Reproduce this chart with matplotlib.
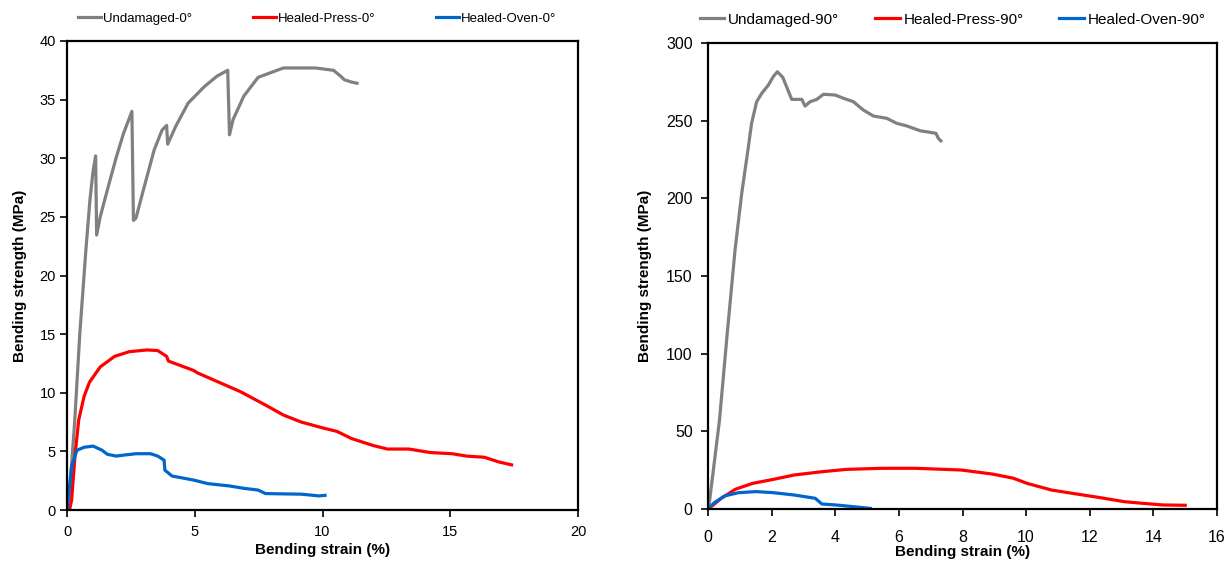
import matplotlib
matplotlib.use("Agg")
import matplotlib.pyplot as plt

plt.rcParams['font.family'] = ['Liberation Sans', 'DejaVu Sans']

# ---- Left panel (0°) ----
und0_x = [0, 0.1, 0.3, 0.5, 0.74, 0.9, 1.02, 1.12, 1.16, 1.3, 1.58, 1.93, 2.21, 2.54, 2.6, 2.7, 2.99, 3.41,
          3.72, 3.9, 3.94, 4.25, 4.74, 5.37, 5.87, 6.29, 6.36, 6.5, 6.92, 7.48, 8.47, 9.73, 10.43, 10.71,
          10.85, 11.13, 11.35]
und0_y = [0, 1.5, 7.5, 15, 22.2, 26.5, 28.9, 30.2, 23.45, 25.0, 27.3, 30.1, 32.1, 34.0, 24.7, 24.9, 27.3, 30.7,
          32.4, 32.8, 31.2, 32.7, 34.7, 36.1, 37.0, 37.5, 32.0, 33.3, 35.3, 36.9, 37.7, 37.7, 37.5, 37.0,
          36.7, 36.5, 36.4]

press0_x = [0.1, 0.18, 0.32, 0.46, 0.67, 0.88, 1.3, 1.86, 2.43, 3.13, 3.55, 3.9, 3.97, 4.96, 5.1, 5.94, 6.78,
            7.77, 8.47, 9.17, 10.01, 10.57, 11.13, 11.98, 12.54, 13.38, 14.22, 15.07, 15.63, 16.33, 16.9, 17.4]
press0_y = [0, 0.85, 4.8, 7.7, 9.7, 10.9, 12.2, 13.1, 13.5, 13.65, 13.6, 13.1, 12.7, 11.9, 11.7, 10.9, 10.1,
            8.95, 8.1, 7.5, 7.0, 6.7, 6.1, 5.5, 5.2, 5.2, 4.9, 4.8, 4.6, 4.5, 4.1, 3.85]

oven0_x = [0, 0.18, 0.39, 0.67, 1.02, 1.37, 1.58, 1.93, 2.29, 2.7, 3.27, 3.55, 3.8, 3.83, 4.11, 4.96, 5.51,
           6.36, 6.92, 7.48, 7.77, 9.17, 9.87, 10.1]
oven0_y = [0, 3.7, 5.1, 5.35, 5.45, 5.1, 4.75, 4.6, 4.7, 4.8, 4.8, 4.6, 4.25, 3.4, 2.9, 2.55, 2.25,
           2.05, 1.85, 1.7, 1.4, 1.35, 1.2, 1.25]

# ---- Right panel (90°) ----
und90_x = [0, 0.03, 0.36, 0.6, 0.85, 1.06, 1.27, 1.37, 1.53, 1.69, 1.9, 2.05, 2.18, 2.35, 2.47, 2.63, 2.95,
           3.05, 3.21, 3.42, 3.63, 4.0, 4.26, 4.57, 4.88, 5.2, 5.62, 5.93, 6.25, 6.67, 6.98, 7.17, 7.24, 7.32]
und90_y = [0, 2, 57, 112, 166.7, 203.2, 233.3, 248.3, 262.2, 267.6, 273, 278.3, 281.5, 277.9, 271.9, 263.7,
           263.7, 259.4, 262.2, 263.7, 267, 266.5, 264.4, 262.2, 256.9, 253, 251.5, 248.3, 246.6, 243.5,
           242.5, 241.8, 238.6, 237]

press90_x = [0.03, 0.42, 0.86, 1.4, 2.06, 2.71, 3.58, 4.35, 5.44, 6.53, 7.96, 8.94, 9.6, 10.03, 10.8, 11.45,
             12.33, 13.09, 13.64, 14.29, 15.0]
press90_y = [0.4, 6.9, 12.7, 16.5, 19.1, 21.9, 24.0, 25.5, 26.2, 26.2, 25.1, 22.5, 19.8, 16.5, 12.2, 10.1,
             7.3, 4.7, 3.7, 2.6, 2.4]

oven90_x = [0, 0.2, 0.52, 0.96, 1.51, 2.06, 2.71, 3.37, 3.58, 4.02, 4.57, 5.1]
oven90_y = [0, 4.1, 8.4, 10.5, 11.2, 10.5, 9.0, 6.9, 3.2, 2.6, 1.5, 0.4]

labels0 = ['Undamaged-0°', 'Healed-Press-0°', 'Healed-Oven-0°']
labels90 = ['Undamaged-90°', 'Healed-Press-90°', 'Healed-Oven-90°']
colors = ['#808080', '#FF0000', '#0066CC']

fig = plt.figure(figsize=(12.32, 5.63), dpi=100)
ax1 = fig.add_axes([67/1232, 53/563, 511/1232, 469/563])
ax2 = fig.add_axes([708/1232, 54/563, 509/1232, 466/563])

lw = 2.3
for x, y, c, l in zip([und0_x, press0_x, oven0_x], [und0_y, press0_y, oven0_y], colors, labels0):
    ax1.plot(x, y, color=c, lw=lw, label=l, solid_joinstyle='round')
for x, y, c, l in zip([und90_x, press90_x, oven90_x], [und90_y, press90_y, oven90_y], colors, labels90):
    ax2.plot(x, y, color=c, lw=lw, label=l, solid_joinstyle='round')

ax1.set_xlim(0, 20)
ax1.set_ylim(0, 40)
ax1.set_xticks([0, 5, 10, 15, 20])
ax1.set_yticks(range(0, 41, 5))
ax2.set_xlim(0, 16)
ax2.set_ylim(0, 300)
ax2.set_xticks(range(0, 17, 2))
ax2.set_yticks(range(0, 301, 50))

for ax in (ax1, ax2):
    for s in ax.spines.values():
        s.set_linewidth(1.6)
    ax.tick_params(direction='out', length=5, width=1.2, labelsize=10.5, pad=3)

ax1.tick_params(axis='x', pad=6)
ax2.tick_params(axis='x', pad=10, labelsize=11.5)
ax2.tick_params(axis='y', labelsize=11.5, pad=6)
ax1.set_xlabel('Bending strain (%)', fontsize=11, fontweight='bold', labelpad=3)
ax2.set_xlabel('Bending strain (%)', fontsize=11, fontweight='bold', labelpad=0)
ax1.set_ylabel('Bending strength (MPa)', fontsize=11, fontweight='bold', labelpad=9)
ax2.set_ylabel('Bending strength (MPa)', fontsize=11, fontweight='bold', labelpad=10)

ax1.legend(loc='lower left', bbox_to_anchor=(0.022, 1.035), ncol=3, frameon=False,
           fontsize=9.5, handlelength=1.75, handletextpad=0.15, columnspacing=4.6,
           borderaxespad=0, borderpad=0)
ax2.legend(loc='lower left', bbox_to_anchor=(-0.016, 1.035), ncol=3, frameon=False,
           fontsize=11, handlelength=1.6, handletextpad=0.25, columnspacing=2.35,
           borderaxespad=0, borderpad=0)

fig.savefig('out.png', dpi=100)
